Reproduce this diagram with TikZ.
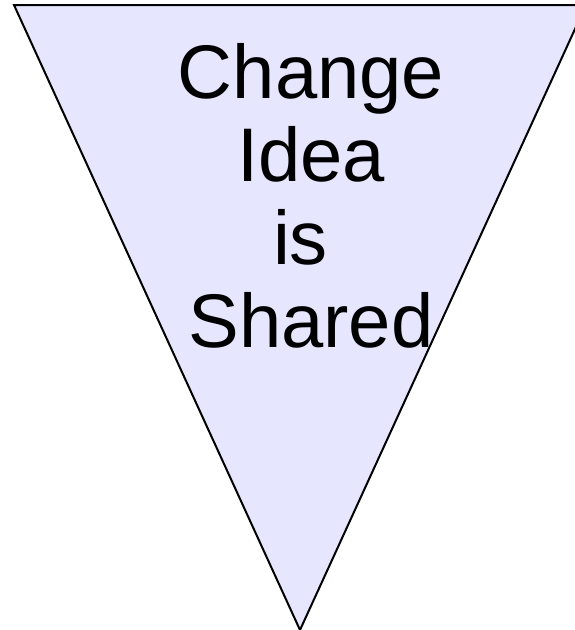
\documentclass[tikz,border=0pt]{standalone}
\usepackage{fontspec}
\setmainfont{Liberation Sans}
\definecolor{lav}{RGB}{230,230,255}
\tikzset{tri/.style={draw=black, line width=2pt, fill=lav, line join=miter},
  lbl/.style={font=\fontsize{76}{83}\selectfont, align=center, inner sep=0pt, anchor=base}}
\begin{document}
\begin{tikzpicture}[x=1pt,y=-1pt]
\useasboundingbox (0,0) rectangle (575,630);
\coordinate (tl) at (14,5);
\coordinate (tr) at (586,5);
\coordinate (bt) at (300,630);
\draw[tri] (tl) -- (tr) -- (bt) -- cycle;
\node[lbl] (t) at (311,347) {Change\\Idea\\is\rule{21pt}{0pt}\\Shared};
\end{tikzpicture}
\end{document}
